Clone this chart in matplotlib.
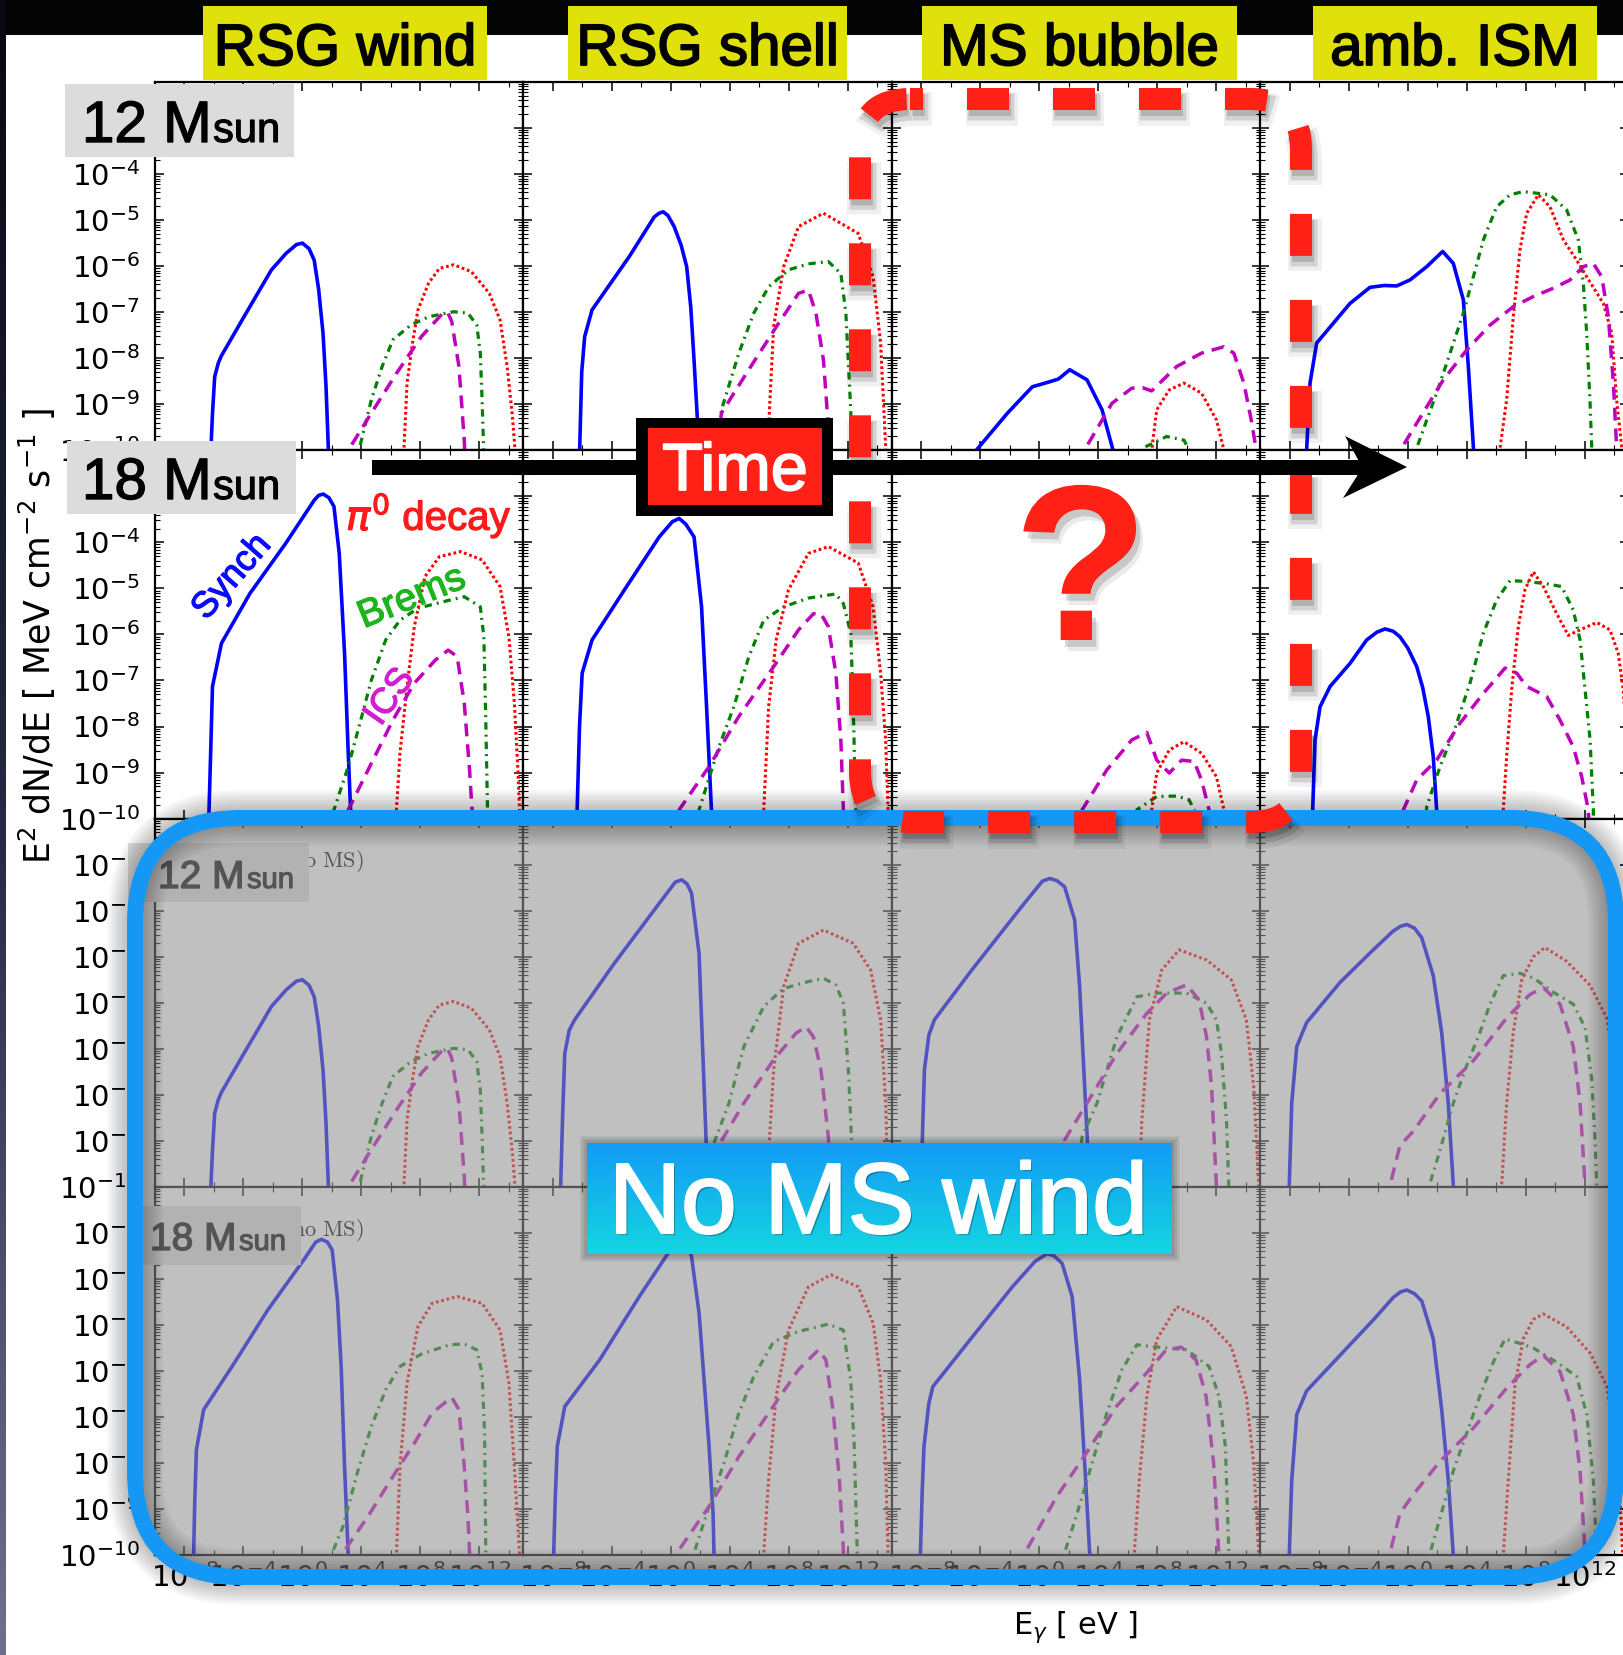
import numpy as np
import matplotlib
matplotlib.use("Agg")
import matplotlib.pyplot as plt
from matplotlib.patches import FancyBboxPatch, Rectangle, Polygon
from matplotlib.ticker import FixedLocator, LogLocator, FuncFormatter, NullFormatter
import matplotlib.patheffects as pe

# ---------------------------------------------------------------- labels
STAGES = ["RSG wind", "RSG shell", "MS bubble", "amb. ISM"]
MASSES = ["12", "18", "12", "18"]

X_MAJOR_EXP = [-8, -4, 0, 4, 8, 12]
X_MINOR_EXP = [-10, -6, -2, 2, 6, 10, 14]
Y_MAJOR_EXP = [-10, -9, -8, -7, -6, -5, -4, -3, -2]

# ---------------------------------------------------------------- spectra
# each curve: (log10 E_gamma [eV], log10 E^2 dN/dE [MeV cm^-2 s^-1])

# 12 Msun, RSG wind
WIND12_SYN = [(-6.25, -10.3), (-6.1, -9.2), (-5.95, -8.4), (-5.7, -8.1), (-5.5, -7.95), (-4.0, -7.12),
              (-2.1, -6.08), (-1.1, -5.72), (-0.4, -5.53), (0.0, -5.5), (0.45, -5.62), (0.8, -5.87),
              (1.1, -6.5), (1.4, -7.46), (1.6, -8.6), (1.8, -10.3)]
WIND12_PI0 = [(6.85, -10.3), (6.9, -9.9), (7.1, -8.54), (7.47, -7.67), (7.84, -6.95), (8.56, -6.37),
              (9.29, -6.05), (10.26, -5.97), (11.47, -6.12), (12.68, -6.59), (13.41, -7.17),
              (13.89, -8.18), (14.25, -9.27), (14.5, -10.3)]
WIND12_BRE = [(3.7, -10.3), (3.96, -9.84), (4.68, -8.9), (5.41, -8.18), (6.14, -7.6), (7.35, -7.28),
              (8.56, -7.1), (10.26, -6.99), (11.23, -7.02), (11.83, -7.28), (12.07, -7.89),
              (12.19, -8.9), (12.33, -10.3)]
WIND12_ICS = [(2.9, -10.3), (3.11, -10.0), (4.68, -9.19), (6.38, -8.33), (8.07, -7.53), (9.53, -7.02),
              (9.85, -7.0), (10.13, -7.2), (10.62, -8.18), (10.98, -9.77), (11.05, -10.3)]

# 12 Msun, RSG shell
SHELL12_SYN = [(-6.22, -10.3), (-6.19, -9.99), (-6.05, -8.3), (-5.85, -7.53), (-5.35, -6.95),
               (-2.82, -5.79), (-1.13, -4.93), (-0.8, -4.85), (-0.52, -4.82), (-0.2, -4.9),
               (0.22, -5.14), (0.7, -5.55), (1.07, -6.01), (1.35, -6.9), (1.57, -8.04), (1.8, -9.34),
               (1.88, -10.3)]
SHELL12_PI0 = [(6.55, -10.3), (6.63, -9.49), (6.97, -7.31), (7.65, -6.01), (8.66, -5.14), (10.35, -4.85),
               (12.71, -5.29), (13.72, -6.23), (14.23, -7.67), (14.57, -9.92), (14.62, -10.3)]
SHELL12_BRE = [(3.0, -10.3), (3.43, -9.12), (4.61, -7.89), (5.62, -7.02), (6.63, -6.45), (7.98, -6.08),
               (9.33, -5.95), (10.68, -5.9), (11.53, -6.16), (11.87, -7.02), (12.03, -8.04),
               (12.2, -9.12), (12.3, -10.3)]
SHELL12_ICS = [(3.0, -10.3), (3.43, -9.19), (5.28, -8.25), (7.31, -7.24), (8.66, -6.59), (9.33, -6.52),
               (9.84, -7.02), (10.35, -8.04), (10.68, -9.49), (10.75, -10.3)]

# 12 Msun, MS bubble
BUBBLE12_SYN = [(-4.5, -10.3), (-4.26, -9.99), (-2.16, -9.19), (-0.48, -8.62), (0.71, -8.51),
                (1.3, -8.45), (2.06, -8.25), (3.23, -8.47), (4.25, -9.12), (4.99, -9.99), (5.05, -10.3)]
BUBBLE12_PI0 = [(7.55, -10.3), (7.62, -9.99), (7.96, -9.12), (8.8, -8.69), (9.81, -8.54), (11.0, -8.76),
                (12.01, -9.34), (12.52, -9.99), (12.6, -10.3)]
BUBBLE12_BRE = [(6.8, -10.3), (7.0, -9.95), (7.62, -9.86), (8.63, -9.7), (9.81, -9.78), (10.15, -9.99),
                (10.25, -10.3)]
BUBBLE12_ICS = [(2.9, -10.3), (3.07, -9.99), (4.92, -8.98), (6.27, -8.65), (7.0, -8.64), (7.62, -8.71),
                (9.31, -8.18), (11.0, -7.89), (12.52, -7.75), (13.19, -7.89), (13.87, -8.54),
                (14.37, -9.34), (14.71, -9.99), (14.76, -10.3)]

# 12 Msun, ambient ISM
ISM12_SYN = [(-6.95, -10.3), (-6.87, -9.99), (-6.64, -8.54), (-6.19, -7.67), (-5.06, -7.24),
             (-3.93, -6.81), (-2.57, -6.46), (-1.6, -6.42), (-0.76, -6.43), (0.14, -6.3), (1.28, -6.01),
             (2.36, -5.68), (3.08, -5.94), (3.76, -6.73), (4.1, -8.18), (4.44, -9.92), (4.48, -10.3)]
ISM12_PI0 = [(6.2, -10.3), (6.25, -9.95), (6.7, -8.9), (7.15, -7.1), (7.6, -5.65), (8.06, -4.85),
             (8.85, -4.45), (9.64, -4.71), (10.55, -5.43), (11.45, -5.87), (12.13, -6.23),
             (13.26, -6.81), (13.83, -7.46), (14.16, -8.9), (14.5, -9.92), (14.6, -10.3)]
ISM12_BRE = [(0.45, -10.3), (0.6, -9.95), (1.28, -9.34), (1.95, -8.76), (2.86, -7.89), (3.76, -7.02),
             (4.44, -6.23), (5.12, -5.43), (6.02, -4.71), (6.93, -4.45), (7.83, -4.38), (9.64, -4.45),
             (10.77, -4.78), (11.56, -5.43), (11.9, -6.37), (12.13, -7.46), (12.35, -8.9),
             (12.47, -9.92), (12.5, -10.3)]
ISM12_ICS = [(-0.6, -10.3), (-0.42, -9.95), (0.6, -9.41), (2.4, -8.47), (3.99, -7.82), (5.57, -7.28),
             (7.15, -6.88), (8.51, -6.66), (9.86, -6.48), (11.0, -6.3), (11.9, -6.01), (12.58, -5.94),
             (13.15, -6.23), (13.6, -7.1), (13.94, -8.54), (14.16, -9.92), (14.2, -10.3)]

# 18 Msun, RSG wind
WIND18_SYN = [(-6.36, -10.3), (-6.34, -9.88), (-6.2, -8.3), (-6.1, -7.13), (-5.49, -6.19), (-3.56, -5.11),
              (-1.13, -4.02), (0.81, -3.08), (1.1, -2.98), (1.41, -2.95), (1.8, -3.03), (2.14, -3.22),
              (2.5, -4.24), (2.86, -6.41), (3.11, -8.58), (3.28, -9.88), (3.3, -10.3)]
WIND18_PI0 = [(6.33, -10.3), (6.38, -9.81), (6.62, -8.58), (7.1, -7.13), (7.59, -5.83), (8.32, -4.74),
              (9.29, -4.31), (10.74, -4.2), (12.19, -4.38), (13.41, -4.96), (14.01, -6.05),
              (14.38, -7.49), (14.62, -8.94), (14.73, -9.81), (14.76, -10.3)]
WIND18_BRE = [(2.0, -10.3), (2.14, -9.81), (3.11, -8.87), (3.96, -7.86), (4.68, -6.99), (5.65, -6.12),
              (6.62, -5.69), (7.84, -5.43), (9.53, -5.29), (10.98, -5.18), (12.07, -5.4), (12.31, -6.05),
              (12.44, -7.86), (12.56, -9.81), (12.58, -10.3)]
WIND18_ICS = [(3.0, -10.3), (3.11, -9.81), (4.68, -8.8), (6.14, -7.86), (7.59, -7.06), (9.04, -6.55),
              (9.89, -6.34), (10.5, -6.48), (10.98, -7.49), (11.34, -8.94), (11.51, -9.81), (11.55, -10.3)]

# 18 Msun, RSG shell
SHELL18_SYN = [(-6.4, -10.3), (-6.36, -9.81), (-6.2, -8.0), (-6.02, -6.84), (-5.35, -6.12),
               (-3.15, -5.03), (-0.79, -3.88), (0.1, -3.55), (0.56, -3.48), (1.0, -3.6), (1.57, -3.88),
               (2.08, -5.4), (2.42, -7.57), (2.75, -9.81), (2.78, -10.3)]
SHELL18_PI0 = [(6.25, -10.3), (6.3, -9.81), (6.63, -7.57), (7.14, -6.12), (7.98, -5.03), (9.33, -4.24),
               (10.68, -4.09), (12.71, -4.45), (13.72, -5.4), (14.23, -6.84), (14.57, -8.29),
               (14.73, -9.81), (14.76, -10.3)]
SHELL18_BRE = [(1.8, -10.3), (1.91, -9.81), (3.26, -8.44), (4.27, -7.57), (5.29, -6.48), (6.3, -5.69),
               (7.65, -5.4), (9.33, -5.21), (11.19, -5.12), (11.7, -5.33), (12.2, -5.97), (12.37, -7.57),
               (12.54, -9.81), (12.56, -10.3)]
SHELL18_ICS = [(0.45, -10.3), (0.56, -9.81), (2.59, -8.87), (4.61, -7.78), (6.97, -6.7), (8.66, -5.9),
               (9.67, -5.55), (10.18, -5.55), (10.68, -5.83), (11.19, -6.84), (11.53, -8.29),
               (11.7, -9.81), (11.72, -10.3)]

# 18 Msun, MS bubble
BUBBLE18_SYN = [(-1.2, -10.3), (-0.5, -10.0), (0.5, -9.93), (1.5, -9.97), (2.3, -10.3)]
BUBBLE18_PI0 = [(7.55, -10.3), (7.62, -9.81), (7.96, -9.01), (8.81, -8.51), (9.81, -8.33), (11.0, -8.58),
                (12.01, -9.09), (12.52, -9.81), (12.6, -10.3)]
BUBBLE18_BRE = [(6.5, -10.3), (6.61, -9.81), (7.96, -9.52), (9.31, -9.51), (10.15, -9.59), (10.5, -9.81),
                (10.6, -10.3)]
BUBBLE18_ICS = [(2.8, -10.3), (2.9, -9.81), (4.58, -8.94), (6.27, -8.29), (7.29, -8.13), (7.96, -8.73),
                (8.81, -9.01), (9.65, -8.73), (10.5, -8.76), (11.0, -9.16), (11.51, -9.81), (11.55, -10.3)]

# 18 Msun, ambient ISM
ISM18_SYN = [(-6.5, -10.3), (-6.46, -9.81), (-6.3, -8.29), (-5.96, -7.57), (-5.28, -7.13),
             (-3.93, -6.63), (-2.8, -6.12), (-2.1, -5.95), (-1.55, -5.88), (-1.0, -5.93), (-0.54, -6.05),
             (0.0, -6.3), (0.6, -6.7), (1.0, -7.15), (1.38, -7.78), (1.72, -8.65), (1.95, -9.81),
             (1.98, -10.3)]
ISM18_PI0 = [(6.4, -10.3), (6.47, -9.81), (6.7, -8.65), (7.04, -7.2), (7.49, -5.83), (7.94, -5.03),
             (8.51, -4.64), (9.19, -4.96), (10.1, -5.55), (10.88, -6.02), (11.68, -5.9), (12.81, -5.74),
             (13.71, -5.9), (14.27, -6.41), (14.61, -7.2), (14.85, -8.6), (15.0, -10.0)]
ISM18_BRE = [(1.1, -10.3), (1.28, -9.74), (2.18, -8.87), (3.08, -8.15), (4.21, -7.06), (5.12, -5.97),
             (6.02, -5.25), (6.93, -4.83), (8.06, -4.85), (9.42, -4.9), (10.43, -4.96), (11.22, -5.47),
             (11.68, -6.12), (12.02, -7.2), (12.36, -8.29), (12.58, -9.81), (12.6, -10.3)]
ISM18_ICS = [(-0.45, -10.3), (-0.31, -9.81), (0.6, -9.16), (1.95, -8.73), (3.53, -7.93), (5.12, -7.28),
             (6.59, -6.73), (7.38, -6.84), (8.06, -7.13), (9.42, -7.35), (10.32, -7.86), (11.22, -8.44),
             (11.79, -9.09), (12.24, -9.81), (12.3, -10.3)]

# 12 Msun without main-sequence wind (RSG wind phase is unchanged)
SHELL12N_SYN = [(-7.5, -10.3), (-7.48, -9.99), (-7.35, -8.5), (-7.2, -7.1), (-6.9, -6.6), (-6.53, -6.37),
                (-3.83, -5.14), (-0.79, -3.84), (0.3, -3.38), (0.73, -3.33), (1.1, -3.42), (1.4, -3.62),
                (1.91, -4.93), (2.25, -7.82), (2.42, -9.27), (2.47, -10.3)]
SHELL12N_PI0 = [(6.55, -10.3), (6.63, -9.27), (6.97, -7.46), (7.65, -5.65), (8.66, -4.71),
                (10.35, -4.42), (12.37, -4.71), (13.55, -5.29), (14.23, -6.37), (14.57, -8.18),
                (14.73, -9.99), (14.75, -10.3)]
SHELL12N_BRE = [(2.3, -10.3), (2.92, -9.05), (3.94, -8.18), (4.95, -6.95), (6.3, -6.08), (7.65, -5.69),
                (9.33, -5.54), (10.35, -5.47), (11.19, -5.61), (11.7, -6.01), (12.04, -7.46),
                (12.2, -8.55), (12.37, -9.99), (12.39, -10.3)]
SHELL12N_ICS = [(2.2, -10.3), (3.26, -9.09), (4.95, -8.18), (6.97, -7.24), (8.49, -6.66), (9.17, -6.52),
                (9.67, -6.74), (10.18, -7.46), (10.68, -8.91), (10.85, -9.99), (10.88, -10.3)]

BUBBLE12N_SYN = [(-8.05, -10.3), (-8.03, -9.99), (-7.9, -8.5), (-7.8, -7.46), (-7.5, -6.7),
                 (-7.12, -6.37), (-4.59, -5.29), (-1.2, -3.91), (0.2, -3.36), (0.71, -3.3),
                 (1.2, -3.35), (1.71, -3.48), (2.39, -4.2), (2.73, -5.65), (3.07, -7.82), (3.41, -9.99),
                 (3.45, -10.3)]
BUBBLE12N_PI0 = [(6.75, -10.3), (6.78, -9.99), (6.95, -8.55), (7.46, -6.37), (8.3, -5.29), (9.48, -4.85),
                 (11.34, -5.07), (13.02, -5.5), (14.04, -6.37), (14.54, -7.82), (14.88, -9.99),
                 (14.9, -10.3)]
BUBBLE12N_BRE = [(2.2, -10.3), (2.9, -8.91), (3.91, -8.18), (5.26, -6.74), (6.61, -5.87), (7.96, -5.79),
                 (9.99, -5.79), (11.34, -6.01), (12.01, -6.37), (12.35, -7.1), (12.69, -8.55),
                 (12.85, -9.99), (12.87, -10.3)]
BUBBLE12N_ICS = [(0.5, -10.3), (1.71, -8.98), (3.23, -8.18), (5.26, -7.1), (7.29, -6.23), (8.64, -5.79),
                 (9.99, -5.61), (10.83, -5.94), (11.34, -6.74), (11.68, -7.82), (12.01, -9.99),
                 (12.03, -10.3)]

ISM12N_SYN = [(-8.08, -10.3), (-8.05, -9.97), (-7.88, -8.18), (-7.54, -6.95), (-6.87, -6.43),
              (-4.61, -5.56), (-2.35, -4.85), (-0.99, -4.44), (-0.5, -4.34), (-0.08, -4.3),
              (0.45, -4.38), (0.94, -4.59), (1.72, -5.41), (2.29, -6.64), (2.74, -8.18), (3.08, -9.97),
              (3.1, -10.3)]
ISM12N_PI0 = [(6.3, -10.3), (6.36, -9.97), (6.7, -8.18), (7.15, -6.64), (7.72, -5.51), (8.51, -5.0),
              (9.3, -4.8), (10.77, -5.1), (12.36, -5.62), (13.49, -6.33), (14.17, -7.66), (14.5, -9.2),
              (14.6, -10.3)]
ISM12N_BRE = [(1.4, -10.3), (1.5, -9.92), (2.18, -9.2), (3.08, -8.18), (3.99, -7.36), (4.89, -6.64),
              (5.57, -6.03), (6.47, -5.41), (7.6, -5.36), (8.51, -5.46), (9.86, -5.77), (11.22, -6.03),
              (12.02, -6.54), (12.47, -7.66), (12.7, -9.0), (12.81, -9.97), (12.83, -10.3)]
ISM12N_ICS = [(-1.2, -10.3), (-1.1, -9.82), (-0.54, -9.1), (0.37, -8.79), (2.18, -7.97), (4.44, -7.26),
              (6.7, -6.33), (8.28, -5.82), (9.19, -5.67), (10.32, -6.03), (11.22, -6.95),
              (11.68, -8.18), (12.02, -9.97), (12.04, -10.3)]

# 18 Msun without main-sequence wind
WIND18N_SYN = [(-7.4, -10.3), (-7.38, -9.99), (-7.3, -8.8), (-7.19, -7.71), (-6.7, -6.84),
               (-4.77, -5.9), (-2.34, -4.67), (0.08, -3.59), (0.9, -3.2), (1.29, -3.14), (1.7, -3.2),
               (2.02, -3.37), (2.38, -4.45), (2.63, -5.9), (2.86, -8.07), (3.11, -9.99), (3.13, -10.3)]
WIND18N_PI0 = [(6.33, -10.3), (6.38, -9.99), (6.62, -8.07), (7.1, -6.26), (7.84, -5.03), (8.8, -4.53),
               (10.5, -4.38), (12.19, -4.53), (13.41, -5.11), (14.01, -6.26), (14.38, -8.07),
               (14.73, -9.99), (14.76, -10.3)]
WIND18N_BRE = [(1.95, -10.3), (2.02, -9.95), (2.75, -9.38), (3.72, -8.22), (4.68, -7.2), (5.65, -6.41),
               (6.62, -5.9), (8.07, -5.63), (10.0, -5.43), (10.98, -5.41), (11.83, -5.54),
               (12.19, -6.05), (12.36, -7.35), (12.44, -9.95), (12.45, -10.3)]
WIND18N_ICS = [(2.65, -10.3), (2.75, -9.95), (4.44, -9.16), (6.14, -8.29), (7.59, -7.57), (8.8, -6.91),
               (10.13, -6.57), (10.62, -6.84), (10.98, -8.07), (11.23, -9.16), (11.34, -9.95),
               (11.36, -10.3)]

SHELL18N_SYN = [(-7.97, -10.3), (-7.95, -9.95), (-7.85, -8.8), (-7.71, -7.64), (-7.2, -6.77),
                (-4.84, -5.76), (-2.14, -4.38), (0.0, -3.35), (0.6, -3.1), (1.0, -3.15), (1.4, -3.51),
                (1.91, -4.74), (2.25, -6.19), (2.59, -7.64), (2.86, -9.09), (2.92, -9.95), (2.94, -10.3)]
SHELL18N_PI0 = [(6.25, -10.3), (6.3, -9.95), (6.63, -8.36), (7.14, -6.55), (7.98, -5.11), (9.33, -4.17),
                (10.85, -3.91), (12.71, -4.17), (13.72, -4.96), (14.23, -6.19), (14.57, -8.0),
                (14.73, -9.95), (14.76, -10.3)]
SHELL18N_BRE = [(1.5, -10.3), (1.57, -9.95), (2.59, -8.94), (3.6, -8.0), (4.61, -6.91), (5.62, -6.12),
                (6.97, -5.36), (8.66, -5.14), (10.68, -4.98), (11.7, -5.11), (12.2, -6.19),
                (12.44, -7.64), (12.64, -9.95), (12.66, -10.3)]
SHELL18N_ICS = [(0.45, -10.3), (0.56, -9.88), (2.59, -8.94), (4.61, -7.86), (6.63, -6.91), (8.66, -5.97),
                (10.01, -5.54), (10.52, -5.76), (11.02, -6.91), (11.43, -8.36), (11.7, -9.88),
                (11.72, -10.3)]

BUBBLE18N_SYN = [(-8.1, -10.3), (-8.07, -9.95), (-7.95, -8.6), (-7.83, -7.64), (-7.5, -6.7),
                 (-7.23, -6.34), (-4.53, -5.25), (-1.83, -4.17), (-0.3, -3.62), (0.53, -3.45),
                 (1.0, -3.5), (1.54, -3.66), (2.22, -4.38), (2.73, -6.19), (3.07, -8.0), (3.41, -9.95),
                 (3.43, -10.3)]
BUBBLE18N_PI0 = [(6.4, -10.3), (6.44, -9.95), (6.78, -8.36), (7.29, -6.55), (7.96, -5.32), (9.31, -4.6),
                 (11.34, -4.89), (13.02, -5.47), (14.04, -6.55), (14.54, -8.0), (14.88, -9.95),
                 (14.9, -10.3)]
BUBBLE18N_BRE = [(1.65, -10.3), (1.71, -9.95), (2.56, -9.09), (3.57, -8.0), (4.58, -6.91), (5.6, -5.97),
                 (6.61, -5.43), (8.64, -5.5), (9.99, -5.54), (11.51, -5.9), (12.18, -6.55),
                 (12.62, -7.64), (12.85, -9.95), (12.87, -10.3)]
BUBBLE18N_ICS = [(-0.95, -10.3), (-0.86, -9.88), (1.17, -8.73), (3.19, -7.78), (5.22, -6.77),
                 (7.25, -6.05), (8.6, -5.54), (9.62, -5.48), (10.63, -5.76), (11.31, -6.55),
                 (11.82, -8.0), (12.16, -9.88), (12.18, -10.3)]

ISM18N_SYN = [(-8.08, -10.3), (-8.05, -10.0), (-7.88, -8.37), (-7.54, -6.94), (-6.87, -6.43),
              (-4.61, -5.66), (-2.35, -4.89), (-0.99, -4.4), (-0.5, -4.28), (-0.08, -4.24),
              (0.45, -4.32), (0.94, -4.48), (1.72, -5.3), (2.29, -6.83), (2.74, -8.37), (3.08, -10.0),
              (3.1, -10.3)]
ISM18N_PI0 = [(6.42, -10.3), (6.47, -10.0), (6.81, -8.37), (7.26, -6.32), (7.83, -5.3), (8.5, -4.88),
              (9.19, -4.76), (10.77, -5.04), (12.36, -5.61), (13.49, -6.32), (14.17, -7.86),
              (14.5, -9.39), (14.6, -10.3)]
ISM18N_BRE = [(1.4, -10.3), (1.5, -9.96), (2.18, -9.19), (3.08, -8.17), (3.99, -7.35), (4.89, -6.53),
              (5.79, -5.81), (6.59, -5.3), (7.6, -5.4), (8.51, -5.5), (10.1, -5.81), (11.45, -6.12),
              (12.13, -6.94), (12.58, -8.37), (12.81, -9.96), (12.83, -10.3)]
ISM18N_ICS = [(-1.2, -10.3), (-1.1, -9.8), (-0.54, -9.09), (0.37, -8.68), (2.18, -7.96), (4.44, -7.24),
              (6.7, -6.37), (8.28, -5.86), (9.19, -5.66), (10.32, -6.01), (11.22, -6.94),
              (11.68, -8.17), (12.02, -9.96), (12.04, -10.3)]

# panel grid: rows = (12, 18, 12 no MS, 18 no MS), columns = evolutionary stage
GRID = [
    [(WIND12_SYN, WIND12_BRE, WIND12_PI0, WIND12_ICS),
     (SHELL12_SYN, SHELL12_BRE, SHELL12_PI0, SHELL12_ICS),
     (BUBBLE12_SYN, BUBBLE12_BRE, BUBBLE12_PI0, BUBBLE12_ICS),
     (ISM12_SYN, ISM12_BRE, ISM12_PI0, ISM12_ICS)],
    [(WIND18_SYN, WIND18_BRE, WIND18_PI0, WIND18_ICS),
     (SHELL18_SYN, SHELL18_BRE, SHELL18_PI0, SHELL18_ICS),
     (BUBBLE18_SYN, BUBBLE18_BRE, BUBBLE18_PI0, BUBBLE18_ICS),
     (ISM18_SYN, ISM18_BRE, ISM18_PI0, ISM18_ICS)],
    [(WIND12_SYN, WIND12_BRE, WIND12_PI0, WIND12_ICS),
     (SHELL12N_SYN, SHELL12N_BRE, SHELL12N_PI0, SHELL12N_ICS),
     (BUBBLE12N_SYN, BUBBLE12N_BRE, BUBBLE12N_PI0, BUBBLE12N_ICS),
     (ISM12N_SYN, ISM12N_BRE, ISM12N_PI0, ISM12N_ICS)],
    [(WIND18N_SYN, WIND18N_BRE, WIND18N_PI0, WIND18N_ICS),
     (SHELL18N_SYN, SHELL18N_BRE, SHELL18N_PI0, SHELL18N_ICS),
     (BUBBLE18N_SYN, BUBBLE18N_BRE, BUBBLE18N_PI0, BUBBLE18N_ICS),
     (ISM18N_SYN, ISM18N_BRE, ISM18N_PI0, ISM18N_ICS)],
]

# line styles: synchrotron, bremsstrahlung, pi0 decay, inverse Compton
STYLES = [
    dict(color="#0000ff", lw=2.6, ls="-", solid_joinstyle="round", zorder=3),
    dict(color="#008000", lw=2.3, ls=(0, (2.3, 1.6, 0.6, 1.6)), zorder=4),
    dict(color="#ff0000", lw=2.2, ls=(0, (0.9, 0.9)), zorder=5),
    dict(color="#bf00bf", lw=2.5, ls=(0, (3.7, 2.3)), zorder=6),
]

# ---------------------------------------------------------------- figure
W, H = 1624, 1655
PT = 72.0 / 100.0          # points per pixel at 100 dpi
fig = plt.figure(figsize=(W / 100, H / 100), dpi=100)
fig.patch.set_facecolor("white")

GX0, GY0, CW, CH = 155.0, 82.0, 368.5, 368.3


def sci(v, pos=None):
    e = int(round(np.log10(v)))
    return r"$\mathdefault{10^{%d}}$" % e


def sci_y(v, pos=None):
    e = int(round(np.log10(v)))
    return "" if e > -3 else r"$\mathdefault{10^{%d}}$" % e


for r in range(4):
    for c in range(4):
        rect = [(GX0 + c * CW) / W, 1 - (GY0 + (r + 1) * CH) / H, CW / W, CH / H]
        ax = fig.add_axes(rect, zorder=1)
        ax.set_xscale("log")
        ax.set_yscale("log")
        for spec, st in zip(GRID[r][c], STYLES):
            e, f = np.array(spec).T
            ax.plot(10.0 ** e, 10.0 ** f, **st)
        ax.set_xlim(1e-10, 1e15)
        ax.set_ylim(1e-10, 1e-2)
        ax.xaxis.set_major_locator(FixedLocator([10.0 ** k for k in X_MAJOR_EXP]))
        ax.xaxis.set_minor_locator(FixedLocator([10.0 ** k for k in X_MINOR_EXP]))
        ax.yaxis.set_major_locator(FixedLocator([10.0 ** k for k in Y_MAJOR_EXP]))
        ax.yaxis.set_minor_locator(LogLocator(base=10, subs=np.arange(2, 10), numticks=30))
        ax.xaxis.set_minor_formatter(NullFormatter())
        ax.yaxis.set_minor_formatter(NullFormatter())
        ax.tick_params(which="both", direction="in", top=True, right=True,
                       labelsize=21, color="black")
        ax.tick_params(which="major", length=6.5, width=1.1)
        ax.tick_params(which="minor", length=3.5, width=0.8)
        ax.tick_params(axis="y", pad=11)
        ax.tick_params(axis="x", pad=6)
        for sp in ax.spines.values():
            sp.set_linewidth(1.6)
        if c == 0:
            ax.yaxis.set_major_formatter(FuncFormatter(sci_y))
        else:
            ax.yaxis.set_major_formatter(NullFormatter())
        if r == 3:
            ax.xaxis.set_major_formatter(FuncFormatter(sci))
        else:
            ax.xaxis.set_major_formatter(NullFormatter())

# ---------------------------------------------------------------- annotation layer (pixel coords)
ov = fig.add_axes([0, 0, 1, 1], zorder=10)
ov.set_axis_off()
ov.patch.set_facecolor("none")


def rbox(x0, y0, x1, y1, rad, **kw):
    return FancyBboxPatch((x0, y0), x1 - x0, y1 - y0,
                          boxstyle="round,pad=0,rounding_size=%g" % rad, **kw)


def heavy(color, w=1.2):
    return [pe.withStroke(linewidth=w, foreground=color)]


SANS = "Liberation Sans"

# dark frame: top band and left strip
ov.add_patch(Rectangle((0, 0), W, 35, fc="#040404", ec="none", zorder=1))
yy = np.linspace(0, 1, 256)
strip = np.stack([np.interp(yy, [0, 0.5, 1], [8, 40, 112]),
                  np.interp(yy, [0, 0.5, 1], [8, 40, 112]),
                  np.interp(yy, [0, 0.5, 1], [20, 66, 140])], axis=-1)[:, None, :] / 255.0
ov.imshow(strip, extent=(0, 5.5, H, 0), aspect="auto", zorder=1, interpolation="bilinear")

# stage titles
for name, (x0, x1) in zip(STAGES, [(203, 487), (568, 847), (922, 1237), (1313, 1597)]):
    ov.add_patch(Rectangle((x0, 6), x1 - x0, 74, fc="#e0e00a", ec="none", zorder=2))
    ov.text((x0 + x1) / 2, 65, name, ha="center", va="baseline", fontsize=42,
            family=SANS, color="black", zorder=3, path_effects=heavy("black", 1.3))

# progenitor mass tags (rows 1-2 bright, rows 3-4 later greyed by the overlay)
MASS_TAGS = [  # box x0, x1, y0, y1, text x, baseline, sub x, big size, small size
    (65, 294, 84, 157, 82, 142, 213, 42, 30),
    (67, 296, 441, 514, 82, 499, 213, 42, 30),
    (128, 309, 843, 902, 158, 888, 247, 28, 21),
    (128, 301, 1206, 1265, 150, 1250, 239, 28, 21),
]
for m, (x0, x1, y0, y1, tx, tb, sx, big, small) in zip(MASSES, MASS_TAGS):
    ov.add_patch(Rectangle((x0, y0), x1 - x0, y1 - y0, fc="#dcdcdc", ec="none", zorder=2))
    ov.text(tx, tb, m + " M", ha="left", va="baseline", fontsize=big, family=SANS, zorder=3,
            path_effects=heavy("black", 1.0))
    ov.text(sx, tb, "sun", ha="left", va="baseline", fontsize=small, family=SANS, zorder=3,
            path_effects=heavy("black", 0.8))

for yb in (867, 1236):
    ov.text(364, yb, r"$\mathrm{(no\ MS)}$", ha="right", va="baseline", fontsize=16,
            math_fontfamily="cm", color="black", zorder=1.5)

# component labels
ov.text(232, 577, "Synch", rotation=49, ha="center", va="center", fontsize=26,
        family=SANS, color="#0a0aff", rotation_mode="anchor", zorder=3,
        path_effects=heavy("#0a0aff", 0.9))
ov.text(412, 598, "Brems", rotation=22, ha="center", va="center", fontsize=28,
        family=SANS, color="#1eb41e", rotation_mode="anchor", zorder=3,
        path_effects=heavy("#1eb41e", 0.9))
ov.text(390, 697, "ICS", rotation=55, ha="center", va="center", fontsize=26,
        family=SANS, color="#d21ed2", rotation_mode="anchor", zorder=3,
        path_effects=heavy("#d21ed2", 0.9))
ov.text(346, 530, r"$\pi^0$ decay", ha="left", va="baseline", fontsize=29,
        family=SANS, color="#ff1a1a", zorder=3, path_effects=heavy("#ff1a1a", 0.9))

# axis titles
ov.text(37, 636, r"E$^2$ dN/dE [ MeV cm$^{-2}$ s$^{-1}$ ]", rotation=90, ha="center",
        va="center", fontsize=25, zorder=3)
ov.text(1075, 1627, r"E$_\gamma$ [ eV ]", ha="center", va="center", fontsize=22, zorder=3)

# "no MS wind" block: translucent grey veil inside a blue rounded frame
BX0, BY0, BX1, BY1, BR = 135, 818, 1616, 1577, 105
ov.add_patch(rbox(BX0, BY0, BX1, BY1, BR, fc=(147 / 255, 147 / 255, 148 / 255), alpha=0.576,
                  ec="none", zorder=4))
for k in range(1, 9):
    ov.add_patch(rbox(BX0, BY0, BX1, BY1, BR, fc="none", ec="black", lw=(16 + 5 * k) * PT,
                      alpha=0.032, zorder=5))
ov.add_patch(rbox(BX0, BY0, BX1, BY1, BR, fc="none", ec="#1597f5", lw=16 * PT, zorder=6))

NX0, NY0, NX1, NY1 = 587, 1143, 1172, 1254
for k in range(1, 6):
    ov.add_patch(Rectangle((NX0, NY0), NX1 - NX0, NY1 - NY0, fc="none", ec="black",
                           lw=3 * k * PT, alpha=0.05, zorder=7))
t = np.linspace(0, 1, 128)
grad = np.stack([np.interp(t, [0, 1], [19, 20]), np.interp(t, [0, 1], [155, 214]),
                 np.interp(t, [0, 1], [245, 224])], axis=-1)[:, None, :] / 255.0
ov.imshow(grad, extent=(NX0, NX1, NY1, NY0), aspect="auto", zorder=8, interpolation="bilinear")
ov.text((NX0 + NX1) / 2 - 1, 1233, "No MS wind", ha="center", va="baseline", fontsize=72,
        family=SANS, color="white", zorder=9,
        path_effects=[pe.SimplePatchShadow(offset=(1.5, -1.5), shadow_rgbFace="k", alpha=0.3),
                      pe.withStroke(linewidth=1.6, foreground="white")])

# red dashed frame around the MS-bubble column
RX0, RY0, RX1, RY1, RR = 860, 99, 1301, 822, 50


def dashed_frame(dx, dy, lw_px, grow, color, alpha, z):
    on = (42.0 + grow) / lw_px
    off = (44.0 - grow) / lw_px
    phase = (29.0 + grow / 2.0) / lw_px
    p = rbox(RX0 + dx, RY0 + dy, RX1 + dx, RY1 + dy, RR, fc="none", ec=color,
             lw=lw_px * PT, ls=(phase, (on, off)), alpha=alpha, zorder=z)
    p.set_capstyle("butt")
    ov.add_patch(p)


dashed_frame(4, 10, 34, 10, "black", 0.06, 10)
dashed_frame(3, 8, 27, 5, "black", 0.12, 10)
dashed_frame(2, 6, 22, 0, "black", 0.15, 10)
dashed_frame(0, 0, 22, 0, "#ff2016", 1.0, 11)

# time arrow
ov.add_patch(Rectangle((372, 459.5), 1358 - 372, 15, fc="black", ec="none", zorder=12))
ov.add_patch(Polygon([(1407, 467), (1345, 436), (1358, 459.5), (1358, 474.5), (1343, 498)],
                     closed=True, fc="black", ec="none", zorder=12))
ov.add_patch(Rectangle((636, 418), 197, 98, fc="black", ec="none", zorder=13))
ov.add_patch(Rectangle((648, 428), 174, 77, fc="#ff2016", ec="none", zorder=14))
ov.text(735, 490, "Time", ha="center", va="baseline", fontsize=48, family=SANS,
        color="white", zorder=15, path_effects=heavy("white", 1.3))

# question mark
ov.text(1081, 640, "?", ha="center", va="baseline", fontsize=160, family=SANS,
        fontweight="bold", color="#ff2016", zorder=15,
        path_effects=[pe.SimplePatchShadow(offset=(5, -8), shadow_rgbFace="k", alpha=0.08),
                      pe.SimplePatchShadow(offset=(3, -5), shadow_rgbFace="k", alpha=0.15),
                      pe.Normal()])

ov.set_xlim(0, W)
ov.set_ylim(H, 0)

fig.savefig("out.png", dpi=100)
